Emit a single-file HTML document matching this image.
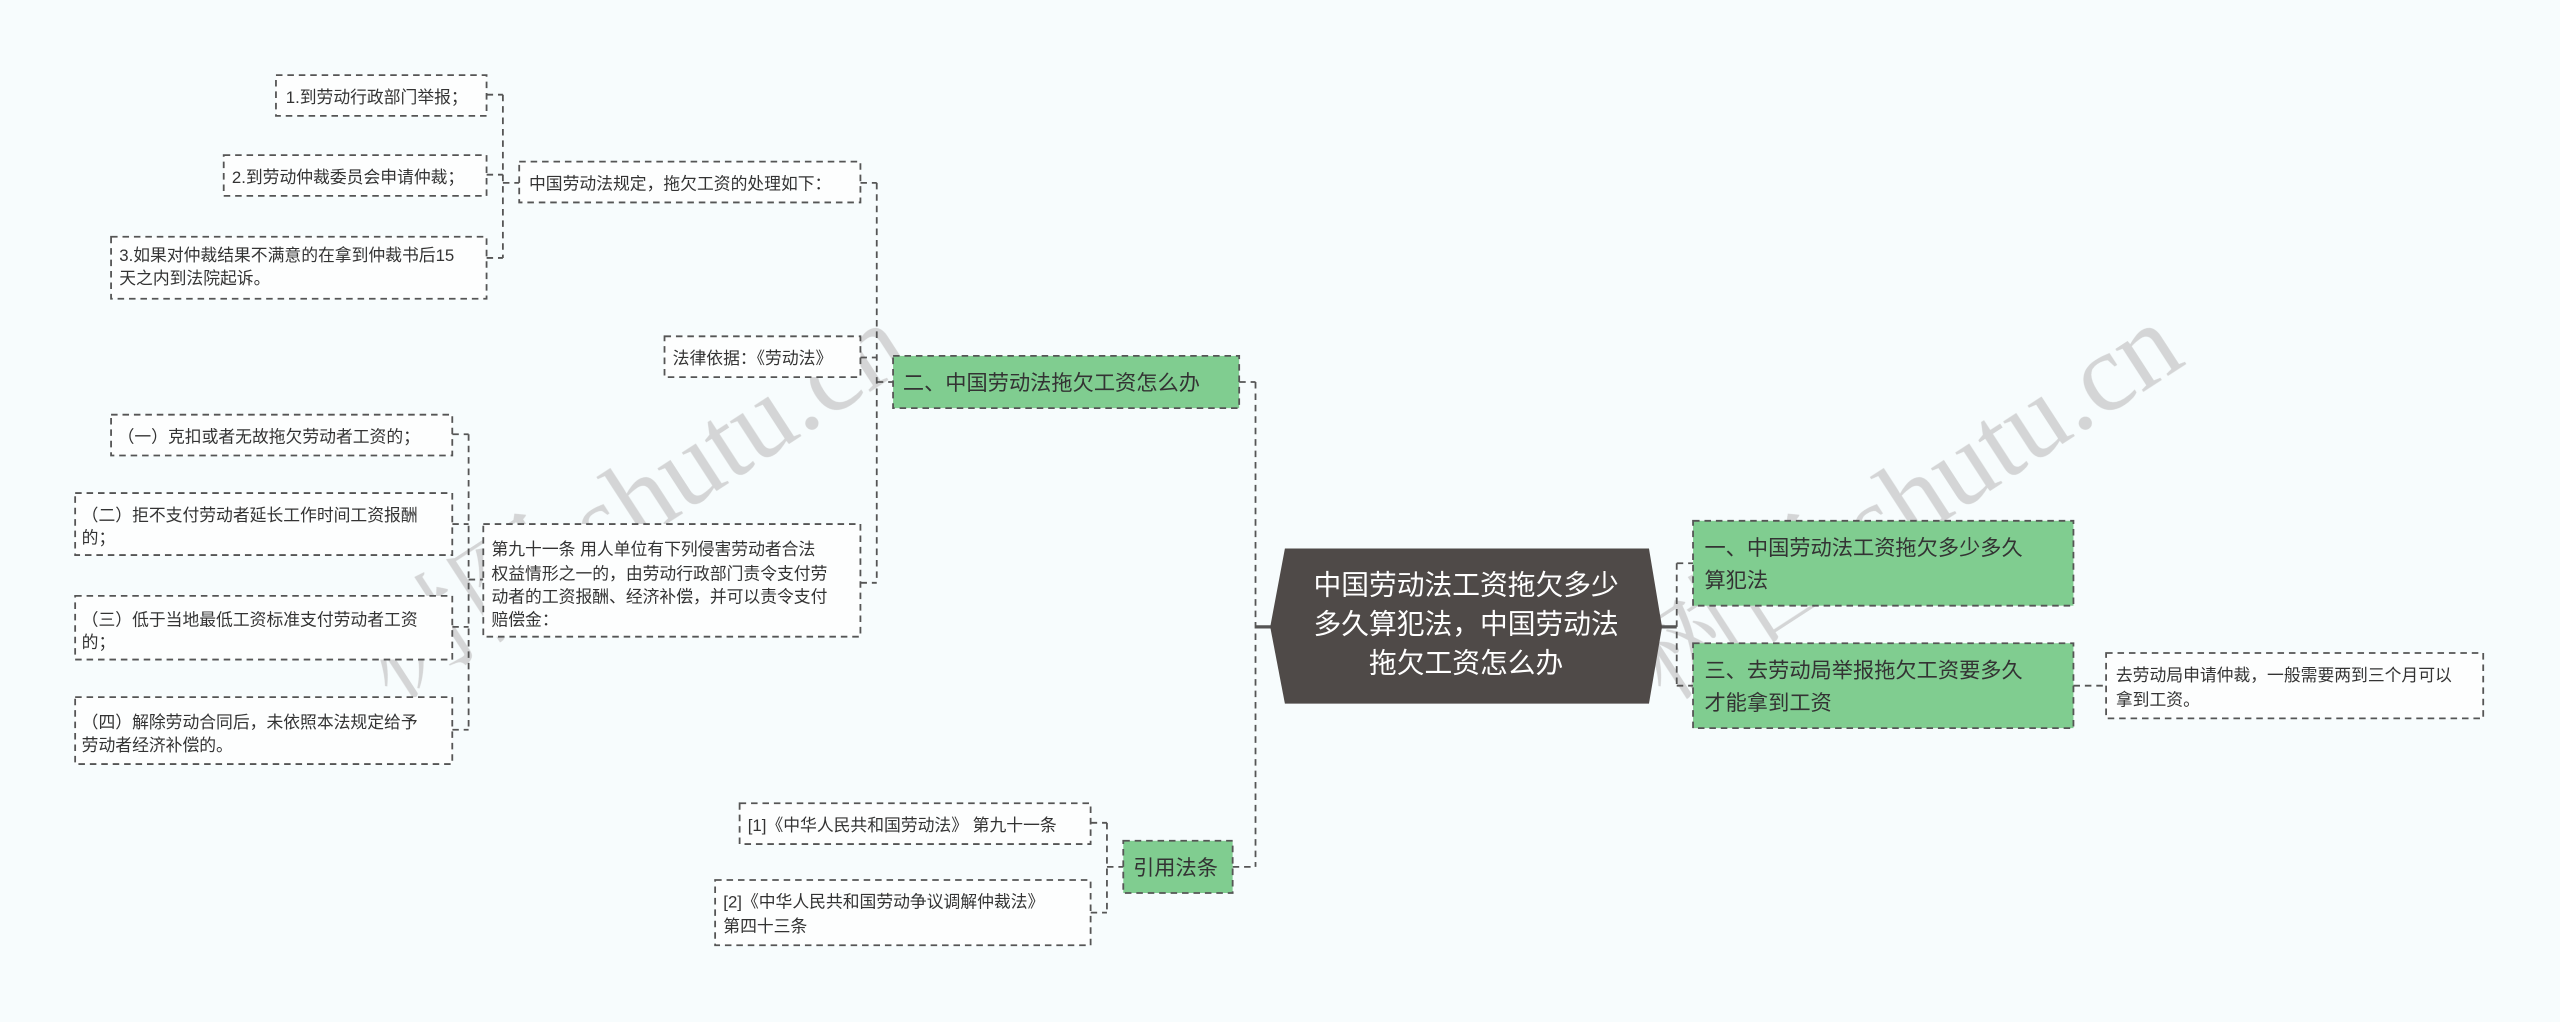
<!DOCTYPE html>
<html><head><meta charset="utf-8"><style>
html,body{margin:0;padding:0;background:#f7fcfd;}
svg{display:block}
text{font-family:"Liberation Sans","Noto Sans CJK SC",sans-serif;}
text.wm{font-family:"Liberation Serif","Noto Serif CJK SC",serif;}
</style></head><body>
<svg width="2560" height="1022" viewBox="0 0 1568 626" xmlns="http://www.w3.org/2000/svg">
<rect width="1568" height="626" fill="#f7fcfd"/>
<!-- watermarks -->
<g fill="#c8c8c8" opacity="0.75" font-size="68">
<text class="wm" x="0" y="0" transform="translate(240,430) rotate(-33)">树图 shutu.cn</text>
<text class="wm" x="0" y="0" transform="translate(1020,430) rotate(-33)">树图 shutu.cn</text>
</g>
<!-- solid connectors near center -->
<g stroke="#555" stroke-width="2" fill="none">
<line x1="769" y1="384" x2="780" y2="384"/>
<line x1="1016" y1="384" x2="1027" y2="384"/>
</g>
<!-- dashed connectors -->
<g stroke="#555" stroke-width="1.1" fill="none" stroke-dasharray="4,3">
<line x1="769" y1="234" x2="769" y2="531"/>
<line x1="759" y1="234" x2="769" y2="234"/>
<line x1="755" y1="531" x2="769" y2="531"/>
<line x1="1027" y1="345" x2="1027" y2="420"/>
<line x1="1027" y1="345" x2="1037" y2="345"/>
<line x1="1027" y1="420" x2="1037" y2="420"/>
<line x1="1270" y1="420" x2="1290" y2="420"/>
<line x1="537" y1="112" x2="537" y2="357"/>
<line x1="527" y1="112" x2="537" y2="112"/>
<line x1="527" y1="219" x2="537" y2="219"/>
<line x1="537" y1="234" x2="547" y2="234"/>
<line x1="527" y1="357" x2="537" y2="357"/>
<line x1="308" y1="58" x2="308" y2="158"/>
<line x1="298" y1="58" x2="308" y2="58"/>
<line x1="298" y1="107" x2="308" y2="107"/>
<line x1="298" y1="158" x2="308" y2="158"/>
<line x1="308" y1="112" x2="318" y2="112"/>
<line x1="287" y1="266" x2="287" y2="447"/>
<line x1="277" y1="266" x2="287" y2="266"/>
<line x1="277" y1="321" x2="287" y2="321"/>
<line x1="277" y1="384" x2="287" y2="384"/>
<line x1="277" y1="447" x2="287" y2="447"/>
<line x1="287" y1="355" x2="296" y2="355"/>
<line x1="678" y1="504" x2="678" y2="559"/>
<line x1="668" y1="504" x2="678" y2="504"/>
<line x1="668" y1="559" x2="678" y2="559"/>
<line x1="678" y1="531" x2="688" y2="531"/>
</g>
<!-- boxes -->
<g stroke="#555" stroke-width="1.1" stroke-dasharray="4,3" fill="#fdfefe">
<rect x="169" y="46" width="129" height="25"/>
<rect x="137" y="95" width="161" height="25"/>
<rect x="68" y="145" width="230" height="38"/>
<rect x="318" y="99" width="209" height="25"/>
<rect x="407" y="206" width="120" height="25"/>
<rect x="68" y="254" width="209" height="25"/>
<rect x="46" y="302" width="231" height="38"/>
<rect x="46" y="365" width="231" height="39"/>
<rect x="46" y="427" width="231" height="41"/>
<rect x="296" y="321" width="231" height="69"/>
<rect x="453" y="492" width="215" height="25"/>
<rect x="438" y="539" width="230" height="40"/>
<rect x="1290" y="400" width="231" height="40"/>
</g>
<g stroke="#555" stroke-width="1.1" stroke-dasharray="4,3" fill="#80cd90">
<rect x="547" y="218" width="212" height="32"/>
<rect x="688" y="515" width="67" height="32"/>
<rect x="1037" y="319" width="233" height="52"/>
<rect x="1037" y="394" width="233" height="52"/>
</g>
<polygon points="787,336 1010,336 1018,384 1010,431 787,431 778,384" fill="#4f4a48"/>
<!-- text small -->
<g font-size="10.3" fill="#333">
<text x="175" y="63">1.到劳动行政部门举报；</text>
<text x="142" y="112">2.到劳动仲裁委员会申请仲裁；</text>
<text x="73" y="160">3.如果对仲裁结果不满意的在拿到仲裁书后15</text>
<text x="73" y="174">天之内到法院起诉。</text>
<text x="324" y="116">中国劳动法规定，拖欠工资的处理如下：</text>
<text x="412" y="223">法律依据：《劳动法》</text>
<text x="72" y="271">（一）克扣或者无故拖欠劳动者工资的；</text>
<text x="50" y="319">（二）拒不支付劳动者延长工作时间工资报酬</text>
<text x="50" y="333">的；</text>
<text x="50" y="383">（三）低于当地最低工资标准支付劳动者工资</text>
<text x="50" y="397">的；</text>
<text x="50" y="446">（四）解除劳动合同后，未依照本法规定给予</text>
<text x="50" y="460">劳动者经济补偿的。</text>
<text x="301" y="340">第九十一条 用人单位有下列侵害劳动者合法</text>
<text x="301" y="355">权益情形之一的，由劳动行政部门责令支付劳</text>
<text x="301" y="369">动者的工资报酬、经济补偿，并可以责令支付</text>
<text x="301" y="383">赔偿金：</text>
<text x="458" y="509">[1]《中华人民共和国劳动法》 第九十一条</text>
<text x="443" y="556">[2]《中华人民共和国劳动争议调解仲裁法》</text>
<text x="443" y="571">第四十三条</text>
<text x="1296" y="417">去劳动局申请仲裁，一般需要两到三个月可以</text>
<text x="1296" y="432">拿到工资。</text>
</g>
<g font-size="13" fill="#333">
<text x="553" y="239">二、中国劳动法拖欠工资怎么办</text>
<text x="694" y="536">引用法条</text>
<text x="1044" y="340">一、中国劳动法工资拖欠多少多久</text>
<text x="1044" y="360">算犯法</text>
<text x="1044" y="415">三、去劳动局举报拖欠工资要多久</text>
<text x="1044" y="435">才能拿到工资</text>
</g>
<g font-size="17" fill="#fff" text-anchor="middle">
<text x="898" y="364">中国劳动法工资拖欠多少</text>
<text x="898" y="388">多久算犯法，中国劳动法</text>
<text x="898" y="412">拖欠工资怎么办</text>
</g>
</svg>
</body></html>
